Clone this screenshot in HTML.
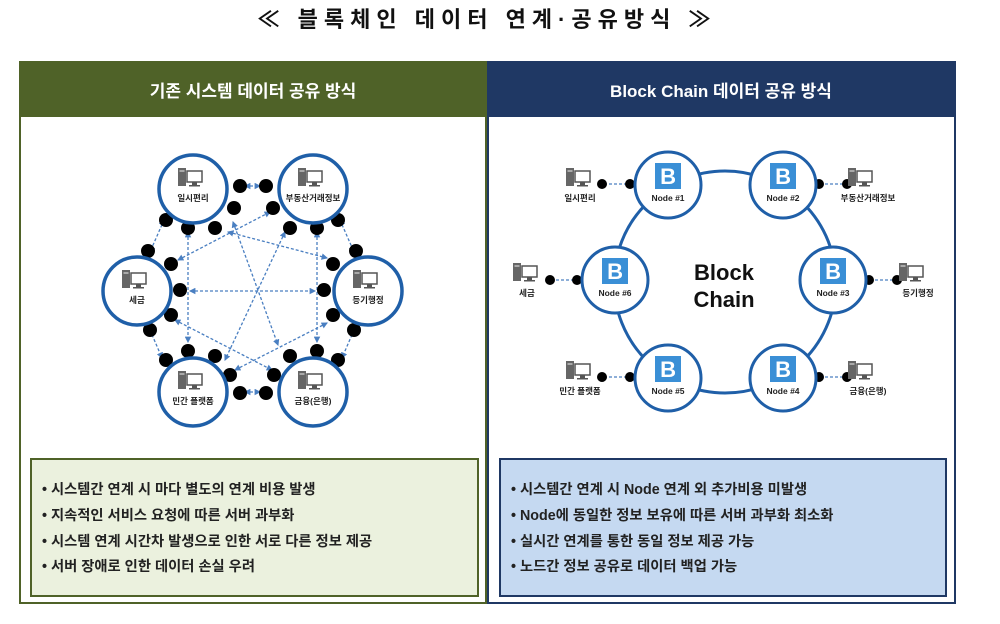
<!DOCTYPE html>
<html><head><meta charset="utf-8"><style>
body{margin:0;background:#fff;width:1000px;height:619px;overflow:hidden;font-family:"Liberation Sans","Noto Sans CJK KR",sans-serif}
</style></head><body>
<svg width="1000" height="619" viewBox="0 0 1000 619" xmlns="http://www.w3.org/2000/svg" font-family="Liberation Sans, Noto Sans CJK KR, sans-serif">
<defs>
<g id="pc">
<rect x="0" y="0" width="8" height="18" fill="#666"/>
<rect x="1.5" y="2" width="5" height="2" fill="#aaa"/>
<rect x="9" y="3" width="15" height="11" fill="#fff" stroke="#555" stroke-width="1.5"/>
<rect x="14" y="14" width="5" height="3" fill="#555"/>
<rect x="11" y="17" width="11" height="1.5" fill="#555"/>
</g>
<g id="bico">
<rect x="-13" y="-13" width="26" height="26" fill="#3a8fd6"/>
<text x="0" y="8" font-size="22" font-weight="bold" fill="#fff" text-anchor="middle">B</text>
</g>
<marker id="ar" viewBox="0 0 6 6" refX="5" refY="3" markerWidth="5" markerHeight="5" orient="auto-start-reverse"><path d="M0,0L6,3L0,6z" fill="#4a7fc1"/></marker>
</defs>
<text x="487" y="27" font-size="22" font-weight="bold" text-anchor="middle" fill="#111" letter-spacing="6">≪ 블록체인 데이터 연계·공유방식 ≫</text>

<!-- left panel -->
<rect x="20" y="62" width="466" height="541" fill="#fff" stroke="#4f6228" stroke-width="2"/>
<rect x="20" y="62" width="466" height="55" fill="#4f6228"/>
<text x="253" y="97" font-size="17" font-weight="bold" fill="#fff" text-anchor="middle">기존 시스템 데이터 공유 방식</text>
<rect x="31" y="459" width="447" height="137" fill="#ebf1de" stroke="#4f6228" stroke-width="2"/>
<g font-size="14.3" font-weight="bold" fill="#222">
<text x="42" y="494">• 시스템간 연계 시 마다 별도의 연계 비용 발생</text>
<text x="42" y="520">• 지속적인 서비스 요청에 따른 서버 과부화</text>
<text x="42" y="546">• 시스템 연계 시간차 발생으로 인한 서로 다른 정보 제공</text>
<text x="42" y="571">• 서버 장애로 인한 데이터 손실 우려</text>
</g>

<!-- right panel -->
<rect x="488" y="62" width="467" height="541" fill="#fff" stroke="#1f3864" stroke-width="2"/>
<rect x="488" y="62" width="467" height="55" fill="#1f3864"/>
<text x="721" y="97" font-size="17" font-weight="bold" fill="#fff" text-anchor="middle">Block Chain 데이터 공유 방식</text>
<rect x="500" y="459" width="446" height="137" fill="#c5d9f1" stroke="#1f3864" stroke-width="2"/>
<g font-size="14.3" font-weight="bold" fill="#222">
<text x="511" y="494">• 시스템간 연계 시 Node 연계 외 추가비용 미발생</text>
<text x="511" y="520">• Node에 동일한 정보 보유에 따른 서버 과부화 최소화</text>
<text x="511" y="546">• 실시간 연계를 통한 동일 정보 제공 가능</text>
<text x="511" y="571">• 노드간 정보 공유로 데이터 백업 가능</text>
</g>

<!-- left network -->
<g stroke="#4a7fc1" stroke-width="1.3" stroke-dasharray="3,2" fill="none" marker-start="url(#ar)" marker-end="url(#ar)">
<line x1="245" y1="186" x2="260" y2="186"/>
<line x1="245" y1="392" x2="260" y2="392"/>
<line x1="164" y1="220" x2="150" y2="252"/>
<line x1="340" y1="220" x2="354" y2="252"/>
<line x1="150" y1="330" x2="162" y2="358"/>
<line x1="354" y1="330" x2="342" y2="358"/>
<line x1="188" y1="232" x2="188" y2="342"/>
<line x1="317" y1="232" x2="317" y2="342"/>
<line x1="190" y1="291" x2="315" y2="291"/>
<line x1="178" y1="260" x2="270" y2="212"/>
<line x1="228" y1="232" x2="327" y2="258"/>
<line x1="233" y1="222" x2="278" y2="345"/>
<line x1="285" y1="232" x2="225" y2="360"/>
<line x1="175" y1="320" x2="272" y2="370"/>
<line x1="327" y1="323" x2="235" y2="370"/>
</g>
<g fill="#000">
<circle cx="240" cy="186" r="7"/><circle cx="266" cy="186" r="7"/>
<circle cx="240" cy="393" r="7"/><circle cx="266" cy="393" r="7"/>
<circle cx="234" cy="208" r="7"/><circle cx="273" cy="208" r="7"/>
<circle cx="166" cy="220" r="7"/><circle cx="188" cy="228" r="7"/><circle cx="215" cy="228" r="7"/>
<circle cx="290" cy="228" r="7"/><circle cx="317" cy="228" r="7"/><circle cx="338" cy="220" r="7"/>
<circle cx="148" cy="251" r="7"/><circle cx="171" cy="264" r="7"/><circle cx="180" cy="290" r="7"/><circle cx="171" cy="315" r="7"/><circle cx="150" cy="330" r="7"/>
<circle cx="356" cy="251" r="7"/><circle cx="333" cy="264" r="7"/><circle cx="324" cy="290" r="7"/><circle cx="333" cy="315" r="7"/><circle cx="354" cy="330" r="7"/>
<circle cx="166" cy="360" r="7"/><circle cx="188" cy="351" r="7"/><circle cx="215" cy="356" r="7"/><circle cx="230" cy="375" r="7"/>
<circle cx="338" cy="360" r="7"/><circle cx="317" cy="351" r="7"/><circle cx="290" cy="356" r="7"/><circle cx="274" cy="375" r="7"/>
</g>
<g fill="#fff" stroke="#1f5fa8" stroke-width="3.5">
<circle cx="193" cy="189" r="34"/><circle cx="313" cy="189" r="34"/>
<circle cx="137" cy="291" r="34"/><circle cx="368" cy="291" r="34"/>
<circle cx="193" cy="392" r="34"/><circle cx="313" cy="392" r="34"/>
</g>
<use href="#pc" x="178" y="168"/><use href="#pc" x="298" y="168"/>
<use href="#pc" x="122" y="270"/><use href="#pc" x="353" y="270"/>
<use href="#pc" x="178" y="371"/><use href="#pc" x="298" y="371"/>
<g font-size="8.5" font-weight="bold" text-anchor="middle" fill="#222">
<text x="193" y="201">일시편리</text><text x="313" y="201">부동산거래정보</text>
<text x="137" y="303">세금</text><text x="368" y="303">등기행정</text>
<text x="193" y="404">민간 플랫폼</text><text x="313" y="404">금융(은행)</text>
</g>

<!-- right network -->
<circle cx="725" cy="282" r="111" fill="none" stroke="#1f5fa8" stroke-width="3"/>
<text x="724" y="280" font-size="22" font-weight="bold" text-anchor="middle" fill="#111">Block</text>
<text x="724" y="307" font-size="22" font-weight="bold" text-anchor="middle" fill="#111">Chain</text>
<g stroke="#4a7fc1" stroke-width="1.3" stroke-dasharray="3,2" fill="none">
<line x1="604" y1="184" x2="628" y2="184"/><line x1="820" y1="184" x2="845" y2="184"/>
<line x1="551" y1="280" x2="575" y2="280"/><line x1="870" y1="280" x2="895" y2="280"/>
<line x1="604" y1="377" x2="628" y2="377"/><line x1="820" y1="377" x2="845" y2="377"/>
</g>
<g fill="#000">
<circle cx="602" cy="184" r="5"/><circle cx="630" cy="184" r="5"/>
<circle cx="819" cy="184" r="5"/><circle cx="847" cy="184" r="5"/>
<circle cx="550" cy="280" r="5"/><circle cx="577" cy="280" r="5"/>
<circle cx="869" cy="280" r="5"/><circle cx="897" cy="280" r="5"/>
<circle cx="602" cy="377" r="5"/><circle cx="630" cy="377" r="5"/>
<circle cx="819" cy="377" r="5"/><circle cx="847" cy="377" r="5"/>
</g>
<g fill="#fff" stroke="#1f5fa8" stroke-width="3">
<circle cx="668" cy="185" r="33"/><circle cx="783" cy="185" r="33"/>
<circle cx="615" cy="280" r="33"/><circle cx="833" cy="280" r="33"/>
<circle cx="668" cy="378" r="33"/><circle cx="783" cy="378" r="33"/>
</g>
<use href="#bico" x="668" y="176"/><use href="#bico" x="783" y="176"/>
<use href="#bico" x="615" y="271"/><use href="#bico" x="833" y="271"/>
<use href="#bico" x="668" y="369"/><use href="#bico" x="783" y="369"/>
<g font-size="8.5" font-weight="bold" text-anchor="middle" fill="#222">
<text x="668" y="201">Node #1</text><text x="783" y="201">Node #2</text>
<text x="615" y="296">Node #6</text><text x="833" y="296">Node #3</text>
<text x="668" y="394">Node #5</text><text x="783" y="394">Node #4</text>
<text x="580" y="201">일시편리</text><text x="868" y="201">부동산거래정보</text>
<text x="527" y="296">세금</text><text x="918" y="296">등기행정</text>
<text x="580" y="394">민간 플랫폼</text><text x="868" y="394">금융(은행)</text>
</g>
<use href="#pc" x="566" y="168"/><use href="#pc" x="848" y="168"/>
<use href="#pc" x="513" y="263"/><use href="#pc" x="899" y="263"/>
<use href="#pc" x="566" y="361"/><use href="#pc" x="848" y="361"/>
</svg>
</body></html>
